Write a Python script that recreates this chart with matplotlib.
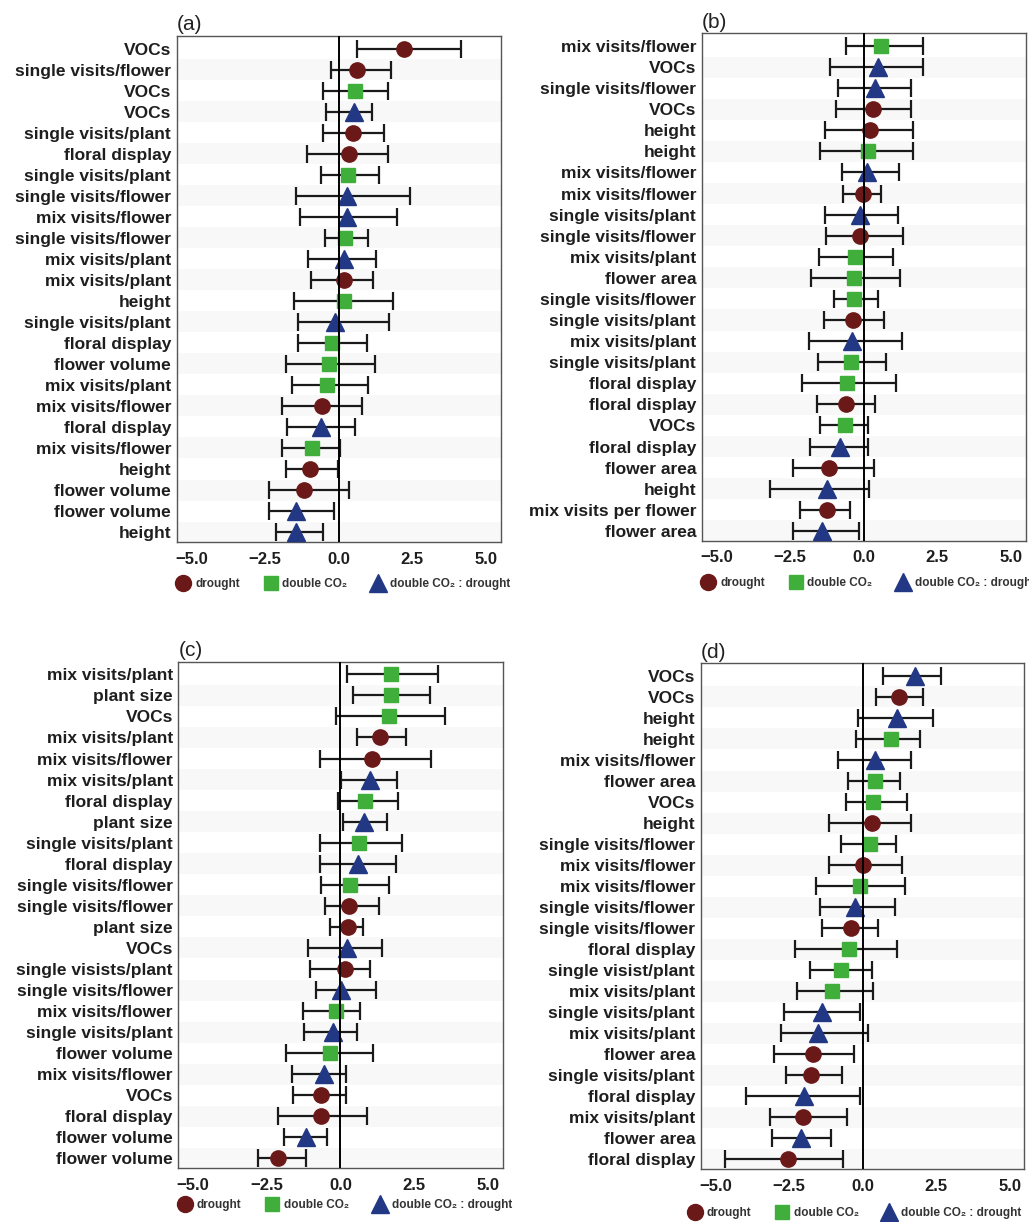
import matplotlib
matplotlib.use("Agg")
from matplotlib import pyplot as plt
from matplotlib.lines import Line2D

plt.rcParams['font.family'] = ['Liberation Sans', 'DejaVu Sans']

# d = drought, c = double CO2, i = double CO2 : drought
# panel (a)
labels_a = ["VOCs", "single visits/flower", "VOCs", "VOCs", "single visits/plant",
            "floral display", "single visits/plant", "single visits/flower",
            "mix visits/flower", "single visits/flower", "mix visits/plant",
            "mix visits/plant", "height", "single visits/plant", "floral display",
            "flower volume", "mix visits/plant", "mix visits/flower", "floral display",
            "mix visits/flower", "height", "flower volume", "flower volume", "height"]
group_a = ["d", "d", "c", "i", "d", "d", "c", "i", "i", "c", "i", "d",
           "c", "i", "c", "c", "c", "d", "i", "c", "d", "d", "i", "i"]
est_a = [2.20, 0.62, 0.57, 0.51, 0.47, 0.34, 0.32, 0.28, 0.28, 0.23, 0.17, 0.17,
         0.17, -0.11, -0.23, -0.32, -0.39, -0.56, -0.60, -0.90, -0.96, -1.18, -1.44, -1.44]
lo_a = [0.62, -0.25, -0.53, -0.43, -0.53, -1.07, -0.60, -1.46, -1.33, -0.48, -1.05, -0.93,
        -1.52, -1.37, -1.39, -1.78, -1.60, -1.94, -1.75, -1.94, -1.78, -2.36, -2.36, -2.14]
hi_a = [4.14, 1.77, 1.66, 1.14, 1.54, 1.66, 1.37, 2.42, 1.97, 1.01, 1.25, 1.18,
        1.84, 1.71, 0.96, 1.24, 0.99, 0.79, 0.54, 0.06, -0.03, 0.36, -0.17, -0.54]

# panel (b)
labels_b = ["mix visits/flower", "VOCs", "single visits/flower", "VOCs", "height",
            "height", "mix visits/flower", "mix visits/flower", "single visits/plant",
            "single visits/flower", "mix visits/plant", "flower area",
            "single visits/flower", "single visits/plant", "mix visits/plant",
            "single visits/plant", "floral display", "floral display", "VOCs",
            "floral display", "flower area", "height", "mix visits per flower", "flower area"]
group_b = ["c", "i", "i", "d", "d", "c", "i", "d", "i", "d", "c", "c",
           "c", "d", "i", "c", "c", "d", "c", "i", "d", "i", "d", "i"]
est_b = [0.59, 0.48, 0.37, 0.32, 0.20, 0.15, 0.11, -0.03, -0.11, -0.14, -0.28, -0.32,
         -0.34, -0.36, -0.39, -0.42, -0.56, -0.60, -0.62, -0.81, -1.18, -1.24, -1.26, -1.43]
lo_b = [-0.59, -1.16, -0.88, -0.94, -1.33, -1.49, -0.73, -0.70, -1.33, -1.27, -1.52, -1.78,
        -1.01, -1.35, -1.84, -1.54, -2.09, -1.60, -1.49, -1.83, -2.39, -3.18, -2.16, -2.39]
hi_b = [2.00, 2.03, 1.61, 1.61, 1.67, 1.67, 1.21, 0.60, 1.16, 1.32, 1.01, 1.24,
        0.48, 0.68, 1.30, 0.77, 1.10, 0.39, 0.15, 0.15, 0.34, 0.17, -0.45, -0.17]

# panel (c)
labels_c = ["mix visits/plant", "plant size", "VOCs", "mix visits/plant",
            "mix visits/flower", "mix visits/plant", "floral display", "plant size",
            "single visits/plant", "floral display", "single visits/flower",
            "single visits/flower", "plant size", "VOCs", "single visists/plant",
            "single visits/flower", "mix visits/flower", "single visits/plant",
            "flower volume", "mix visits/flower", "VOCs", "floral display",
            "flower volume", "flower volume"]
group_c = ["c", "c", "c", "d", "d", "i", "c", "i", "c", "i", "c", "d",
           "d", "i", "d", "i", "c", "i", "c", "i", "d", "d", "i", "d"]
est_c = [1.70, 1.70, 1.64, 1.35, 1.06, 1.01, 0.85, 0.79, 0.62, 0.61, 0.34, 0.28,
         0.27, 0.23, 0.14, 0.02, -0.15, -0.26, -0.37, -0.57, -0.66, -0.66, -1.17, -2.11]
lo_c = [0.21, 0.44, -0.15, 0.55, -0.68, 0.02, -0.07, 0.08, -0.71, -0.68, -0.66, -0.52,
        -0.34, -1.11, -1.03, -0.83, -1.28, -1.25, -1.85, -1.64, -1.62, -2.11, -1.93, -2.79]
hi_c = [3.30, 3.05, 3.56, 2.23, 3.08, 1.93, 1.95, 1.59, 2.10, 1.89, 1.66, 1.32,
        0.76, 1.40, 0.99, 1.21, 0.68, 0.55, 1.10, 0.19, 0.19, 0.89, -0.46, -1.17]

# panel (d)
labels_d = ["VOCs", "VOCs", "height", "height", "mix visits/flower", "flower area",
            "VOCs", "height", "single visits/flower", "mix visits/flower",
            "mix visits/flower", "single visits/flower", "single visits/flower",
            "floral display", "single visist/plant", "mix visits/plant",
            "single visits/plant", "mix visits/plant", "flower area",
            "single visits/plant", "floral display", "mix visits/plant",
            "flower area", "floral display"]
group_d = ["i", "d", "i", "c", "i", "c", "c", "d", "c", "d", "c", "i",
           "d", "c", "c", "c", "i", "i", "d", "d", "i", "d", "i", "d"]
est_d = [1.77, 1.23, 1.18, 0.96, 0.42, 0.42, 0.34, 0.33, 0.25, 0.02, -0.07, -0.26,
         -0.39, -0.45, -0.73, -1.05, -1.39, -1.50, -1.69, -1.76, -2.00, -2.03, -2.09, -2.53]
lo_d = [0.68, 0.45, -0.15, -0.23, -0.84, -0.51, -0.56, -1.14, -0.74, -1.14, -1.58, -1.46,
        -1.39, -2.29, -1.80, -2.23, -2.68, -2.77, -3.00, -2.59, -3.95, -3.16, -3.07, -4.68]
hi_d = [2.65, 2.05, 2.41, 1.96, 1.63, 1.26, 1.52, 1.63, 1.15, 1.34, 1.43, 1.09,
        0.51, 1.17, 0.33, 0.36, -0.09, 0.19, -0.29, -0.71, -0.09, -0.52, -1.08, -0.68]

styles = {
    "d": dict(marker="o", color="#6b1818", ms=11),
    "c": dict(marker="s", color="#3fae3a", ms=10),
    "i": dict(marker="^", color="#233884", ms=12.5),
}


def draw_panel(ax, labels, group, est, lo, hi, title, leg_x=-0.03, leg_y=-0.084):
    n = len(labels)
    ypos = [n - 1 - k for k in range(n)]
    # faint row bands
    for k in range(0, n, 2):
        ax.axhspan(k - 0.5, k + 0.5, color="#f8f8f8", lw=0, zorder=0)
    for g in ["d", "c", "i"]:
        idx = [k for k in range(n) if group[k] == g]
        x = [est[k] for k in idx]
        y = [ypos[k] for k in idx]
        xerr = [[est[k] - lo[k] for k in idx], [hi[k] - est[k] for k in idx]]
        ax.errorbar(x, y, xerr=xerr, fmt="none", ecolor="#1a1a1a", elinewidth=1.6,
                    capsize=6.5, capthick=1.6, zorder=2)
        st = styles[g]
        ax.plot(x, y, ls="none", marker=st["marker"], ms=st["ms"], color=st["color"],
                mec=st["color"], zorder=3)
    ax.axvline(0, color="black", lw=1.4, zorder=4)
    ax.set_xlim(-5.5, 5.5)
    ax.set_ylim(-0.47, n - 1 + 0.6)
    ax.set_xticks([-5.0, -2.5, 0.0, 2.5, 5.0])
    ax.set_xticklabels(["\u22125.0", "\u22122.5", "0.0", "2.5", "5.0"])
    ax.set_yticks(ypos)
    ax.set_yticklabels(labels)
    ax.tick_params(axis="y", length=0, pad=4, labelsize=12.5, labelcolor="#1e1e1e")
    ax.tick_params(axis="x", length=0, pad=7, labelsize=12, labelcolor="#1e1e1e")
    for lab in ax.get_yticklabels() + ax.get_xticklabels():
        lab.set_fontweight("bold")
    for sp in ax.spines.values():
        sp.set_color("#555555")
        sp.set_linewidth(1.0)
    ax.set_title(title, loc="left", fontsize=15, pad=4, color="#222222")
    handles = [
        Line2D([], [], ls="none", marker="o", ms=11.5, color=styles["d"]["color"]),
        Line2D([], [], ls="none", marker="s", ms=10.5, color=styles["c"]["color"]),
        Line2D([], [], ls="none", marker="^", ms=13, color=styles["i"]["color"]),
    ]
    ax.legend(handles, ["drought", "double CO\u2082", "double CO\u2082 : drought"],
              loc="center left", bbox_to_anchor=(leg_x, leg_y), ncol=3, frameon=False,
              handlelength=1.0, handletextpad=0.5, columnspacing=2.1,
              prop={"size": 8.5, "weight": "bold"}, labelcolor="#333333")


fig = plt.figure(figsize=(10.29, 12.22), dpi=100)
ax_a = fig.add_axes([0.1717, 0.5565, 0.3149, 0.4141])
ax_b = fig.add_axes([0.6819, 0.5575, 0.3149, 0.4152])
ax_c = fig.add_axes([0.1733, 0.0439, 0.3151, 0.4146])
ax_d = fig.add_axes([0.6810, 0.0431, 0.3145, 0.4141])

draw_panel(ax_a, labels_a, group_a, est_a, lo_a, hi_a, "(a)")
draw_panel(ax_b, labels_b, group_b, est_b, lo_b, hi_b, "(b)")
draw_panel(ax_c, labels_c, group_c, est_c, lo_c, hi_c, "(c)", leg_y=-0.072)
draw_panel(ax_d, labels_d, group_d, est_d, lo_d, hi_d, "(d)", leg_x=-0.07, leg_y=-0.087)

fig.savefig("out.png", dpi=100)
